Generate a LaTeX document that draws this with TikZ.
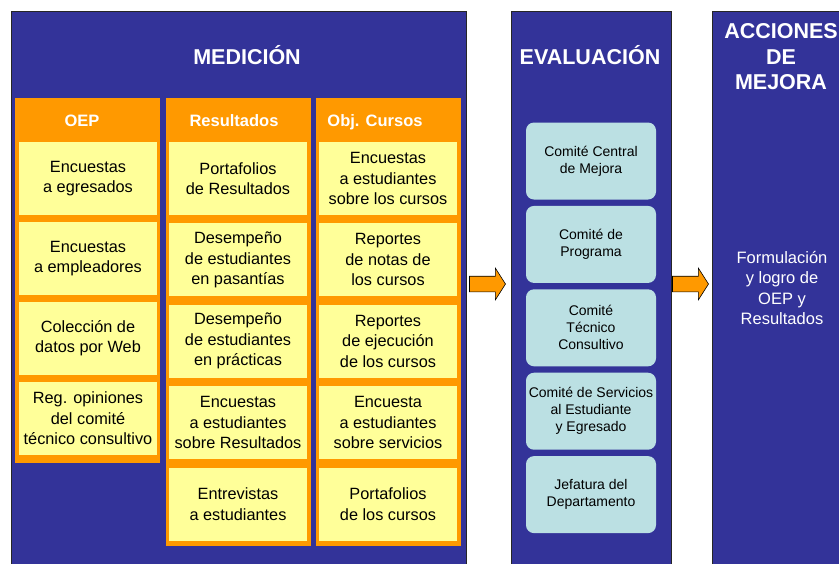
\documentclass[tikz,border=0pt]{standalone}
\usepackage{fontspec}
\setmainfont{Liberation Sans}
\usetikzlibrary{positioning,shapes.arrows}
\definecolor{azul}{HTML}{333399}
\definecolor{naranja}{HTML}{FF9900}
\definecolor{amarillo}{HTML}{FFFF99}
\definecolor{celeste}{HTML}{BBE0E3}

\begin{document}
\begin{tikzpicture}[x=1pt,y=-1pt,
  panel/.style={rectangle,fill=azul,draw=black!85,line width=0.8pt,
  anchor=north west,inner sep=0pt,minimum height=560pt},
  columna/.style={rectangle,fill=naranja,anchor=north west,
  inner sep=0pt,minimum width=145pt},
  titulo/.style={text=white,align=center,
  font=\fontsize{21.5}{25.5}\selectfont\bfseries},
  encabezado/.style={text=white,anchor=base,
  font=\fontsize{16.5}{18}\selectfont\bfseries},
  caja/.style={rectangle,fill=amarillo,align=center,inner sep=1pt,
  minimum width=138pt,minimum height=73pt,font=\fontsize{16.3}{20.5}\selectfont},
  comite/.style={rectangle,rounded corners=8pt,fill=celeste,align=center,
  inner sep=1pt,minimum width=130pt,minimum height=77pt,
  font=\fontsize{14}{17}\selectfont},
  flecha/.style={single arrow,fill=naranja,draw=black,line width=0.6pt,
  inner sep=7.5pt,single arrow head extend=8pt,single arrow tip angle=115,
  minimum height=36pt}]

  \useasboundingbox (0,0) rectangle (839,563);

  %Panels%
  \node[panel,minimum width=455pt] (med) at (11,11) {};
  \node[panel,minimum width=160pt] (eva) at (511,11) {};
  \node[panel,minimum width=140pt] (acc) at (712,11) {};

  \node[titulo] (medT) at (247,55) {MEDICIÓN};
  \node[titulo] (evaT) at (590,55) {EVALUACIÓN};
  \node[titulo] (accT) at (781,57) {ACCIONES\\DE\\MEJORA};

  %Orange columns of Medicion%
  \node[columna,minimum height=365pt] (oep) at (15,98) {};
  \node[columna,minimum height=448pt] (res) at (166,98) {};
  \node[columna,minimum height=448pt] (obj) at (316,98) {};

  \node[encabezado] (oepT) at (82,126) {OEP};
  \node[encabezado] (resT) at (234,126) {Resultados};
  \node[encabezado] (objT) at (375,126) {Obj. Cursos};

  %OEP boxes%
  \node[caja] (oep1) at (88,178.5) {Encuestas\\a egresados};
  \node[caja] (oep2) [below=6.5pt of oep1] {Encuestas\\a empleadores};
  \node[caja] (oep3) [below=6.5pt of oep2] {Colección de\\datos por Web};
  \node[caja] (oep4) [below=6.5pt of oep3] {Reg. opiniones\\del comité\\técnico consultivo};

  %Resultados boxes%
  \node[caja] (res1) at (238,178.5) {Portafolios\\de Resultados};
  \node[caja] (res2) [below=8pt of res1] {Desempeño\\de estudiantes\\en pasantías};
  \node[caja] (res3) [below=8pt of res2] {Desempeño\\de estudiantes\\en prácticas};
  \node[caja] (res4) [below=8pt of res3] {Encuestas\\a estudiantes\\sobre Resultados};
  \node[caja] (res5) [below=8pt of res4] {Entrevistas\\a estudiantes};

  %Obj. Cursos boxes%
  \node[caja] (obj1) at (388,178.5) {Encuestas\\a estudiantes\\sobre los cursos};
  \node[caja] (obj2) [below=8pt of obj1] {Reportes\\de notas de\\los cursos};
  \node[caja] (obj3) [below=8pt of obj2] {Reportes\\de ejecución\\de los cursos};
  \node[caja] (obj4) [below=8pt of obj3] {Encuesta\\a estudiantes\\sobre servicios};
  \node[caja] (obj5) [below=8pt of obj4] {Portafolios\\de los cursos};

  %Evaluacion committees%
  \node[comite] (com1) at (591,161) {Comité Central\\de Mejora};
  \node[comite] (com2) [below=6pt of com1] {Comité de\\Programa};
  \node[comite] (com3) [below=6pt of com2] {Comité\\Técnico\\Consultivo};
  \node[comite] (com4) [below=6pt of com3] {Comité de Servicios\\al Estudiante\\y Egresado};
  \node[comite] (com5) [below=6pt of com4] {Jefatura del\\Departamento};

  %Acciones text%
  \node[text=white,align=center,font=\fontsize{16.5}{20.3}\selectfont]
    (form) at (782,288) {Formulación\\y logro de\\OEP y\\Resultados};

  %Arrows between panels%
  \node[flecha] (f1) at (485,284) {};
  \node[flecha] (f2) at (688,284) {};

\end{tikzpicture}
\end{document}
